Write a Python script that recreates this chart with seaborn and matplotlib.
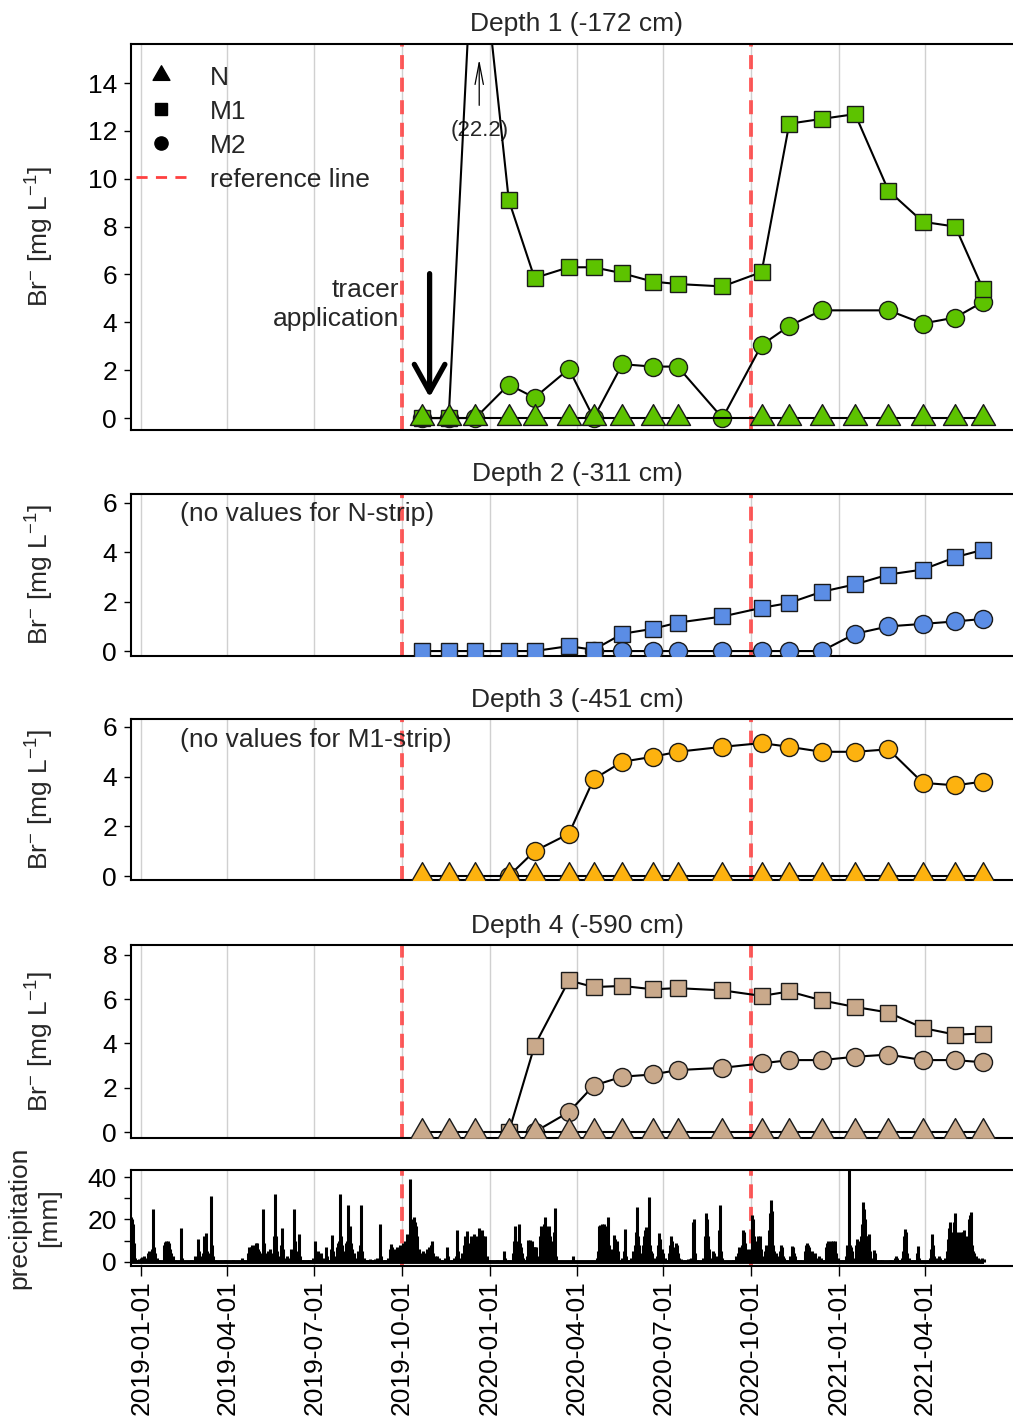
import numpy as np
import pandas as pd
import matplotlib
matplotlib.use("Agg")
import matplotlib.pyplot as plt
import matplotlib.dates as mdates
from matplotlib.lines import Line2D
from matplotlib.path import Path
import seaborn as sns

# ---------------- data ----------------
sample_dates = ["2019-10-22", "2019-11-19", "2019-12-17", "2020-01-21", "2020-02-17",
                "2020-03-24", "2020-04-19", "2020-05-19", "2020-06-20", "2020-07-16",
                "2020-09-01", "2020-10-12", "2020-11-10", "2020-12-14", "2021-01-18",
                "2021-02-22", "2021-03-30", "2021-05-03", "2021-06-01"]
NA = np.nan
depth1_N = [0, 0, 0, 0, 0, 0, 0, 0, 0, 0, NA, 0, 0, 0, 0, 0, 0, 0, 0]
depth1_M1 = [0, 0, 22.2, 9.1, 5.85, 6.3, 6.3, 6.05, 5.7, 5.6, 5.5, 6.1, 12.3, 12.5, 12.7, 9.5, 8.2, 8.0, 5.4]
depth1_M2 = [0, 0, 0, 1.4, 0.85, 2.05, 0, 2.25, 2.15, 2.15, 0, 3.05, 3.85, 4.5, NA, 4.5, 3.95, 4.2, 4.85]
depth2_M1 = [0, 0, 0, 0, 0, 0.2, 0.05, 0.7, 0.9, 1.15, 1.4, 1.75, 1.95, 2.4, 2.7, 3.1, 3.3, 3.8, 4.1]
depth2_M2 = [NA, NA, NA, NA, NA, NA, 0, 0, 0, 0, 0, 0, 0, 0, 0.7, 1.0, 1.1, 1.2, 1.3]
depth3_N = [0] * 19
depth3_M2 = [NA, NA, NA, 0, 1.0, 1.7, 3.9, 4.6, 4.8, 5.0, 5.2, 5.35, 5.2, 5.0, 5.0, 5.1, 3.75, 3.65, 3.8]
depth4_N = [0] * 19
depth4_M1 = [NA, NA, NA, 0, 3.9, 6.85, 6.55, 6.6, 6.45, 6.5, 6.4, 6.15, 6.35, 5.95, 5.65, 5.4, 4.7, 4.4, 4.45]
depth4_M2 = [NA, NA, NA, NA, 0, 0.9, 2.1, 2.5, 2.6, 2.8, 2.9, 3.1, 3.25, 3.25, 3.4, 3.5, 3.25, 3.25, 3.15]

depth_titles = ["Depth 1 (-172 cm)", "Depth 2 (-311 cm)", "Depth 3 (-451 cm)", "Depth 4 (-590 cm)"]
depth_colors = ["#5DC300", "#5B8DE5", "#FDB20F", "#C9A98B"]

ref_dates = ["2019-10-01", "2020-10-01"]
tracer_date = "2019-10-30"
grid_dates = ["2019-01-01", "2019-04-01", "2019-07-01", "2019-10-01", "2020-01-01",
              "2020-04-01", "2020-07-01", "2020-10-01", "2021-01-01", "2021-04-01"]

# daily precipitation: days since 2019-01-01 and amount [mm]
precip_day = [
    -11, -10, -9, -8, -7, -5, -3, -1, 1, 3, 5, 7, 8, 9, 11, 12, 13, 14, 16, 18,
    24, 25, 26, 27, 28, 29, 30, 31, 33, 35, 41, 42, 52, 56, 59, 60, 62, 64, 66, 68,
    69, 71, 73, 74, 75, 77, 88, 91, 96, 105, 106, 112, 113, 114, 115, 116, 117, 118, 119, 120,
    121, 122, 123, 125, 127, 128, 129, 131, 133, 135, 137, 139, 140, 141, 142, 144, 146, 147, 148, 150,
    152, 155, 157, 158, 160, 161, 162, 163, 165, 166, 168, 170,
    173, 176, 180, 182, 183, 185, 186, 188, 190, 193, 194, 196, 199, 200, 201, 203, 205, 206, 207, 208,
    209, 210, 212, 214, 215, 216, 217, 219, 220, 221, 223, 225, 227, 229, 230, 231, 233, 236, 240, 242,
    245, 247, 250, 251, 255, 258, 261, 262, 263, 264, 265, 267, 268, 269, 271, 272, 274, 275, 276, 278,
    279, 281, 282, 283, 285, 286, 287, 288, 289, 291, 293, 295, 297, 299, 301, 303, 304, 305, 306, 308,
    310, 312, 314, 318, 320, 321, 325, 328, 330, 331, 332, 334, 336, 338, 339, 341, 342, 343, 345, 346,
    347, 349, 350, 352, 354, 355,
    356, 357, 358, 359, 360, 362, 364, 367, 373, 380, 381, 385, 389, 390, 391, 392, 393, 395, 396, 397,
    398, 399, 400, 403, 404, 405, 406, 407, 408, 409, 410, 411, 412, 413, 415, 417, 418, 419, 420, 421,
    422, 423, 424, 425, 426, 427, 428, 429, 430, 431, 432, 433, 434, 452, 477, 479, 480, 481, 482, 483,
    484, 485, 486, 487, 488, 489, 490, 491, 492, 494, 495, 496, 497, 498, 499, 500, 502, 504, 506, 507,
    508, 511, 513, 515, 517, 518, 519, 520, 521, 522, 524, 526, 527, 528, 529, 530, 531, 532, 533, 534,
    535, 537, 540, 541, 542, 543, 544,
    546, 547, 549, 551, 553, 554, 555, 556, 557, 559, 560, 561, 562, 563, 566, 570, 573, 575, 576, 578,
    579, 580, 582, 589, 591, 592, 593, 594, 595, 597, 599, 600, 602, 605, 606, 607, 609, 620, 623, 625,
    626, 627, 628, 629, 630, 631, 632, 633, 634, 635, 636, 638, 639, 640, 641, 642, 643, 644, 645, 646,
    647, 648, 649, 651, 652, 654, 655, 656, 658, 659, 660, 661, 662, 663, 665, 667, 669, 670, 671, 672,
    674, 676, 680, 682, 683, 684, 685, 687, 690, 696, 697, 698, 699, 700, 701, 703, 704, 706, 707, 710,
    712, 715, 718, 719, 720, 721, 722,
    723, 724, 725, 726, 727, 728, 730, 733, 736, 738, 739, 740, 742, 743, 744, 745, 747, 749, 750, 751,
    752, 753, 754, 755, 756, 757, 758, 759, 760, 761, 762, 763, 764, 766, 768, 769, 771, 774, 776, 780,
    785, 790, 791, 792, 795, 797, 798, 799, 800, 801, 802, 804, 808, 811, 813, 814, 815, 820, 824, 827,
    828, 829, 830, 831, 834, 836, 837, 839, 842, 844, 845, 846, 847, 848, 849, 850, 851, 852, 853, 854,
    855, 856, 857, 858, 859, 860, 861, 862, 863, 864, 866, 867, 868, 869, 870, 871, 872, 873, 875, 877,
    879, 881, 883]
precip_mm = [
    21, 20, 18, 9, 2, 1, 1.5, 2, 2.5, 3, 2, 4, 5, 3, 6, 25, 7, 4, 2, 1,
    8, 9.5, 10, 9.5, 10, 9, 6, 4, 3, 1, 16, 2, 1, 3, 11, 5, 3, 4, 12, 13.5,
    5, 4, 31, 8, 3, 1, 1, 0.5, 1, 2, 1, 4, 7, 6, 7, 8, 6, 7, 8, 9,
    9, 6, 5, 4, 25, 9, 4, 3, 5, 6, 4, 12, 32, 12, 5, 3, 8, 16, 6, 2,
    3, 2, 6, 4, 25, 10, 5, 3, 13, 3, 1, 1,
    1, 1, 2, 10, 4, 5, 3, 4, 2, 7, 3, 1, 6, 12.5, 5, 3, 7, 9, 10, 32,
    12, 8, 5, 9, 10, 27, 12, 17, 9, 6, 4, 2, 5, 8, 27, 5, 2, 1, 1.5, 1,
    1.5, 2, 18, 3, 1, 2, 6, 8.5, 7, 5, 6, 5, 7, 6, 8, 6, 9, 8, 10, 13,
    8, 39, 20, 10, 8, 21, 19, 17, 12, 6, 4, 5, 4, 6, 7, 8, 10, 8, 4, 3,
    3, 2, 1, 2, 7, 3, 1, 2, 3, 15, 5, 2, 4, 8, 12, 14.5, 9, 7, 12, 10,
    8, 13, 8, 12, 16, 12,
    10, 15, 12, 10, 12, 3, 1, 0.5, 1, 5, 2, 1, 4, 10, 17, 12, 8, 10, 18, 9,
    7, 4, 2, 1, 3, 10.5, 10, 10.5, 9, 10, 7, 7, 7, 7, 2, 3, 12, 17, 15, 12,
    18, 21, 17, 14, 16, 17, 12, 10, 6, 8, 14, 25.5, 3, 3, 2, 5, 17, 17.5, 16, 18,
    17, 18, 10, 12, 17, 21, 8, 6, 3, 6, 12.5, 11, 9, 10, 5, 3, 1, 2, 5, 15.5,
    3, 1, 2, 5, 8, 14, 26, 12, 8, 6, 4, 8, 12, 15, 16.5, 5, 10, 30.5, 8, 5,
    4, 2, 3, 8, 13.5, 11, 5,
    6, 4, 2, 1, 4, 8, 12, 10, 3, 7, 9, 8, 4, 2, 1.5, 1, 1.5, 1.5, 2, 19,
    20, 4, 1, 2, 12, 23, 20, 12, 6, 2, 5, 4, 3, 15, 27, 5, 2, 1, 3, 4,
    7, 6, 5, 8, 11, 15, 14, 9, 5, 6, 4, 6, 5, 22, 20, 12, 7, 8, 10, 12,
    9, 12, 6, 3, 2, 5, 8, 7, 15, 23, 29, 24, 8, 5, 4, 3, 5, 8, 7, 3,
    2, 1, 3, 7.5, 7, 4, 3, 1, 1, 5, 8, 9, 8, 7, 4, 5, 3.5, 4, 2, 3,
    2, 1, 7, 9, 10, 8, 6,
    10, 9, 10, 5, 10, 4, 2, 1, 1, 3, 7, 8, 45, 8, 7, 5, 2, 8, 11, 10,
    9, 9, 12, 18, 28, 25, 20, 12, 10, 8, 12, 13, 5, 2, 5.5, 4, 1, 1, 1, 0.5,
    1, 2, 3, 2, 1, 2, 5, 12, 15.5, 14, 4, 2, 1, 1, 4, 7.5, 2, 0.5, 1, 2,
    6, 13, 8, 3, 2, 3, 2, 1, 2, 5, 11, 16, 19, 18, 5, 10, 14, 19, 23, 12,
    10, 14, 12, 13, 14, 12, 14, 15, 12, 10, 12, 20, 22, 23.5, 10, 8, 5, 4, 3, 2,
    1.5, 2, 1.5]

# ---------------- style ----------------
sns.set_style("ticks")
plt.rcParams.update({
    "font.family": ["Liberation Sans", "DejaVu Sans"],
    "font.size": 19,
    "mathtext.default": "regular",
    "axes.linewidth": 1.5,
    "axes.edgecolor": "black",
    "xtick.color": "black",
    "ytick.color": "black",
})

W, H = 1013, 1421
fig = plt.figure(figsize=(W / 100, H / 100), dpi=100)

x_left, x_right = 131, 1023
panels_px = [(44, 430), (494, 656), (719, 880), (945, 1138), (1170, 1266)]
ylims = [(-0.5, 15.63), (-0.2, 6.36), (-0.16, 6.32), (-0.27, 8.45), (-1.9, 43.3)]
yticks = [np.arange(0, 15, 2), [0, 2, 4, 6], [0, 2, 4, 6], [0, 2, 4, 6, 8], [0, 20, 40]]
xlim = (pd.Timestamp("2018-12-21"), pd.Timestamp("2021-07-13"))

dates = pd.to_datetime(sample_dates)
ref_ts = pd.to_datetime(ref_dates)
grid_ts = pd.to_datetime(grid_dates)

axes = []
for (top, bot) in panels_px:
    ax = fig.add_axes([x_left / W, 1 - bot / H, (x_right - x_left) / W, (bot - top) / H])
    axes.append(ax)

REF_COLOR = "#ff4040"
# equilateral triangle centred on its centroid (like R's pch 24)
TRI = Path([(0, 1), (-0.866, -0.5), (0.866, -0.5), (0, 1)],
           [Path.MOVETO, Path.LINETO, Path.LINETO, Path.CLOSEPOLY])

def decorate(ax, i):
    for g in grid_ts:
        ax.axvline(g, color="#d0d0d0", lw=1.0, zorder=0)
    for r in ref_ts:
        ax.axvline(r, color=REF_COLOR, lw=2.8, dashes=(3.6, 2.2), alpha=0.85, zorder=1)
    ax.set_xlim(*xlim)
    ax.set_ylim(*ylims[i])
    ax.set_yticks(yticks[i])
    ax.tick_params(axis="y", length=5, width=1.0, pad=5, labelsize=19)
    for s in ax.spines.values():
        s.set_linewidth(1.5)

marker_cfg = {"N": dict(marker=TRI, markersize=20),
              "M1": dict(marker="s", markersize=12),
              "M2": dict(marker="o", markersize=13)}

def series(ax, vals, kind, color, z):
    df = pd.DataFrame({"date": dates, "value": vals}).dropna()
    sns.lineplot(data=df, x="date", y="value", ax=ax, color="black", lw=1.5,
                 markerfacecolor=color, markeredgecolor="#1a1a1a", markeredgewidth=1.0,
                 legend=False, zorder=z, **marker_cfg[kind])

panel_series = [
    [("M2", depth1_M2), ("M1", depth1_M1), ("N", depth1_N)],
    [("M2", depth2_M2), ("M1", depth2_M1)],
    [("M2", depth3_M2), ("N", depth3_N)],
    [("M2", depth4_M2), ("M1", depth4_M1), ("N", depth4_N)],
]

for i in range(4):
    ax = axes[i]
    decorate(ax, i)
    for k, (kind, vals) in enumerate(panel_series[i]):
        series(ax, vals, kind, depth_colors[i], 3 + k)
    ax.set_title(depth_titles[i], fontsize=19, pad=9)
    ax.tick_params(axis="x", length=0, labelbottom=False)
    ax.set_xlabel("")
    ax.set_ylabel(r"Br$^{-}$ [mg L$^{-1}$]", fontsize=19)
    ax.yaxis.set_label_coords(-0.084, 0.5)

# legend in top panel
ax1 = axes[0]
handles = [Line2D([], [], ls="none", marker=TRI, color="black", markersize=14),
           Line2D([], [], ls="none", marker="s", color="black", markersize=8.5),
           Line2D([], [], ls="none", marker="o", color="black", markersize=9.5),
           Line2D([], [], color=REF_COLOR, lw=2.0, dashes=(4, 3))]
ax1.legend(handles, ["N", "M1", "M2", "reference line"], loc="upper left",
           bbox_to_anchor=(-0.012, 0.985), frameon=False, fontsize=19,
           handlelength=1.9, handletextpad=0.9, labelspacing=0.38, borderaxespad=0.2)

# tracer application annotation
tr = pd.Timestamp(tracer_date)
ax1.annotate("", xy=(tr, 0.75), xytext=(tr, 6.15),
             arrowprops=dict(arrowstyle="->,head_length=0.9,head_width=0.5",
                             mutation_scale=22, lw=3.8, color="black"), zorder=8)
ax1.text(ref_ts[0] - pd.Timedelta(days=3), 4.75, "tracer\napplication", ha="right", va="center",
         multialignment="right", linespacing=1.25, fontsize=19)

# peak label for off-scale value
peak_idx = int(np.nanargmax(depth1_M1))
peak_x = dates[peak_idx] + pd.Timedelta(days=4)
ax1.text(peak_x, 12.0, "(%.1f)" % depth1_M1[peak_idx], ha="center", va="center", fontsize=16)
ax1.annotate("", xy=(peak_x, 15.1), xytext=(peak_x, 12.95),
             arrowprops=dict(arrowstyle="->,head_length=1.3,head_width=0.25",
                             mutation_scale=12, lw=0.9, color="black"))

axes[1].text(0.055, 0.875, "(no values for N-strip)", transform=axes[1].transAxes,
             ha="left", va="center", fontsize=19)
axes[2].text(0.055, 0.87, "(no values for M1-strip)", transform=axes[2].transAxes,
             ha="left", va="center", fontsize=19)

# precipitation panel
ax5 = axes[4]
decorate(ax5, 4)
p_dates = pd.Timestamp("2019-01-01") + pd.to_timedelta(precip_day, unit="D")
ax5.vlines(p_dates, 0, precip_mm, color="black", lw=2.2, zorder=3)
ax5.hlines(0, p_dates.min(), p_dates.max(), color="black", lw=2.8, zorder=3)
ax5.set_yticks([10, 30], minor=True)
ax5.tick_params(axis="y", which="minor", length=5, width=1.0)
ax5.set_xticks(grid_ts)
ax5.xaxis.set_major_formatter(mdates.DateFormatter("%Y-%m-%d"))
ax5.tick_params(axis="x", length=7, width=1.0, pad=3, labelsize=19, rotation=90)
ax5.set_ylabel("precipitation\n[mm]", fontsize=19, linespacing=1.3)
ax5.yaxis.set_label_coords(-0.078, 0.5)

fig.savefig("out.png", dpi=100)
